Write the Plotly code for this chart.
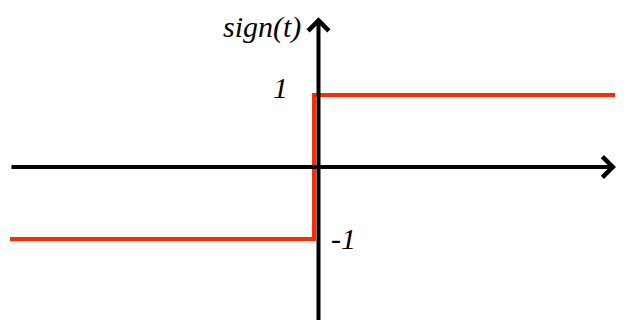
import plotly.graph_objects as go

# signum function data
t_vals = [-3.04, 0, 0, 3.01]
sign_vals = [-1, -1, 1, 1]

# axis extents (data units)
x_axis = [-3.04, 3.02]
y_axis = [-2.3, 2.08]
y_axis_x = 0.045  # where the vertical axis sits (just right of the jump)

fig = go.Figure()

# red step curve
fig.add_trace(go.Scatter(
    x=t_vals, y=sign_vals, mode='lines',
    line=dict(color='#ff2a00', width=4),
    hoverinfo='skip',
))

font = dict(family='Liberation Serif', size=30, color='black', style='italic')

annotations = [
    # horizontal axis arrow
    dict(x=x_axis[1], y=0, ax=x_axis[0], ay=0, xref='x', yref='y', axref='x', ayref='y',
         showarrow=True, arrowhead=4, arrowsize=1, arrowwidth=4, arrowcolor='black', text=''),
    # vertical axis arrow
    dict(x=y_axis_x, y=y_axis[1], ax=y_axis_x, ay=y_axis[0], xref='x', yref='y', axref='x', ayref='y',
         showarrow=True, arrowhead=4, arrowsize=1, arrowwidth=4, arrowcolor='black', text=''),
    dict(x=-0.52, y=1.95, text='sign(t)', showarrow=False, font=font, xref='x', yref='y'),
    dict(x=-0.34, y=1.1, text='1', showarrow=False, font=font, xref='x', yref='y'),
    dict(x=0.29, y=-0.99, text='-1', showarrow=False, font=font, xref='x', yref='y'),
    dict(x=3.2, y=-0.04, text='t', showarrow=False, font=font, xref='x', yref='y'),
]

fig.update_layout(
    width=635, height=320,
    margin=dict(l=0, r=0, t=0, b=0),
    paper_bgcolor='white', plot_bgcolor='white',
    showlegend=False,
    xaxis=dict(range=[-3.06, 3.29], visible=False, fixedrange=True),
    yaxis=dict(range=[-2.236, 2.208], visible=False, fixedrange=True),
    annotations=annotations,
)

fig.write_html("out.html")
